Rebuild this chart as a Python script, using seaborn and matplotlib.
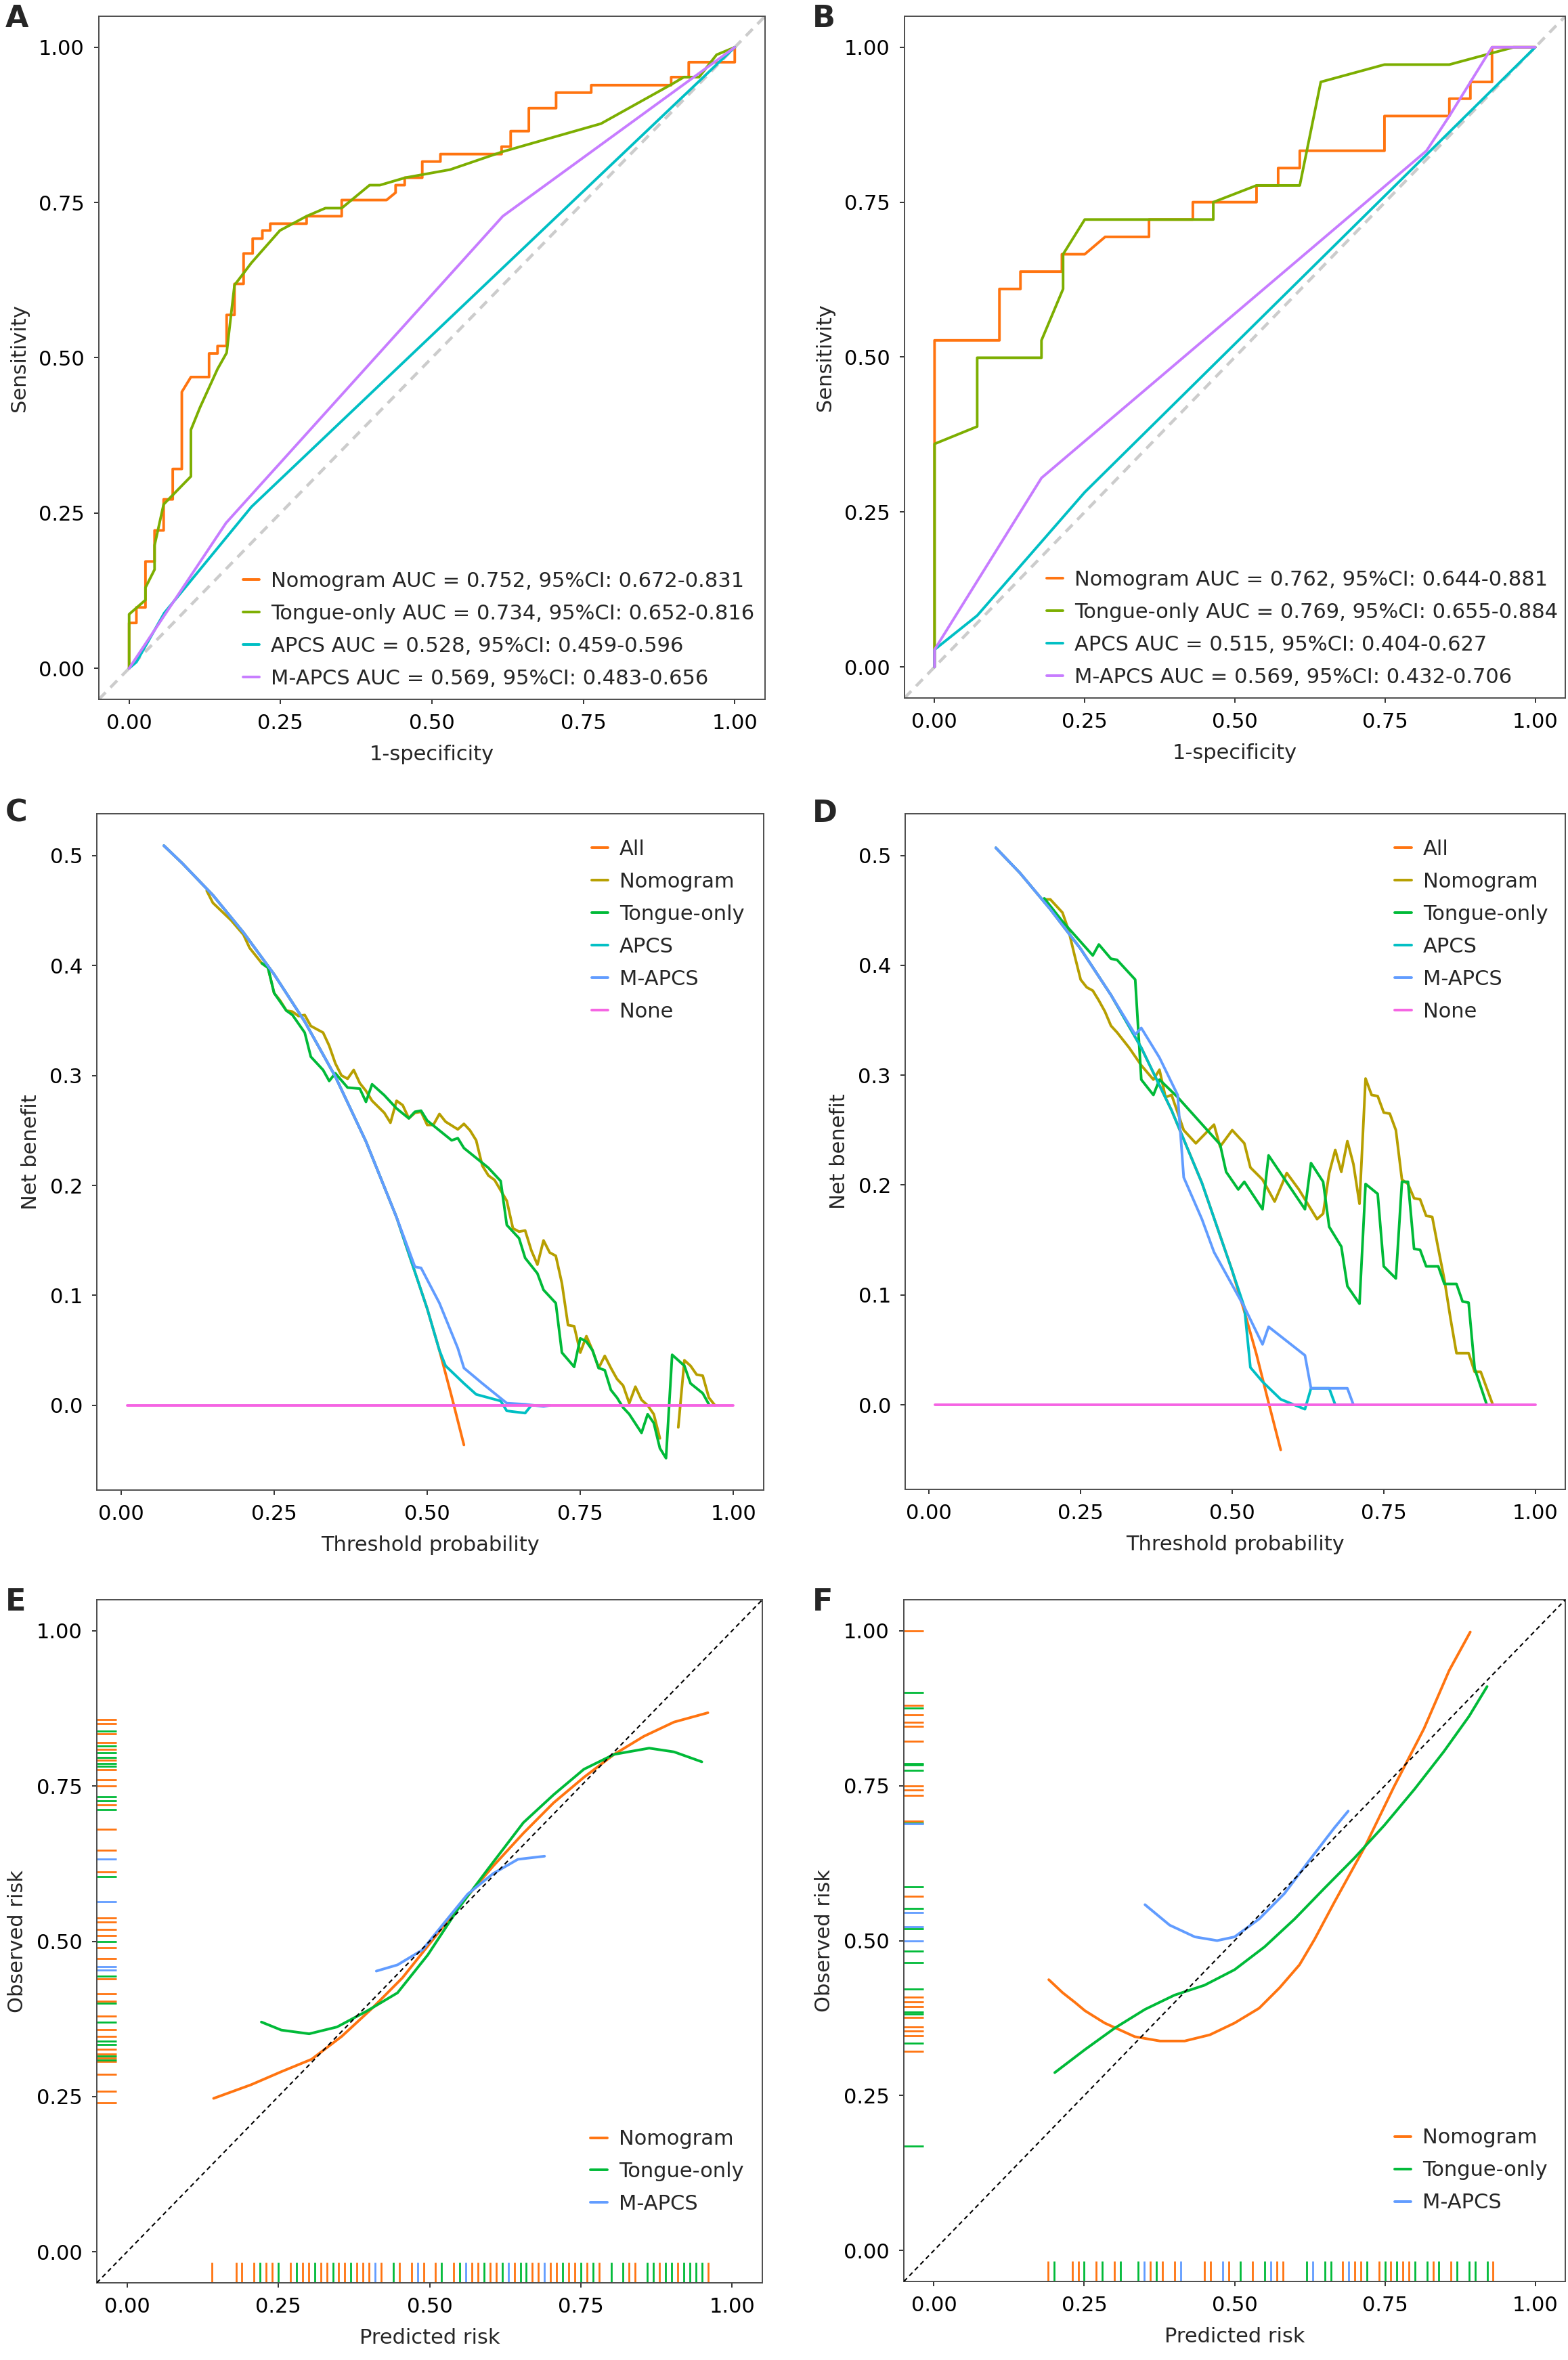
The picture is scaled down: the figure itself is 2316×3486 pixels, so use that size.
import numpy as np
import pandas as pd
import matplotlib
matplotlib.use("Agg")
import matplotlib.pyplot as plt
import seaborn as sns

# ---------------- DATA ----------------
roc_labels_A = ["Nomogram AUC = 0.752, 95%CI: 0.672-0.831",
                "Tongue-only AUC = 0.734, 95%CI: 0.652-0.816",
                "APCS AUC = 0.528, 95%CI: 0.459-0.596",
                "M-APCS AUC = 0.569, 95%CI: 0.483-0.656"]
roc_labels_B = ["Nomogram AUC = 0.762, 95%CI: 0.644-0.881",
                "Tongue-only AUC = 0.769, 95%CI: 0.655-0.884",
                "APCS AUC = 0.515, 95%CI: 0.404-0.627",
                "M-APCS AUC = 0.569, 95%CI: 0.432-0.706"]

A_nom_fpr = [0, 0, 0.012, 0.012, 0.027, 0.027, 0.042, 0.042, 0.057, 0.057,
             0.072, 0.072, 0.087, 0.087, 0.102, 0.132, 0.132, 0.146, 0.146, 0.161,
             0.161, 0.174, 0.174, 0.189, 0.189, 0.204, 0.204, 0.220, 0.220, 0.233,
             0.233, 0.293, 0.293, 0.351, 0.351, 0.425, 0.440, 0.440, 0.455, 0.455,
             0.484, 0.484, 0.514, 0.514, 0.615, 0.615, 0.630, 0.630, 0.660, 0.660,
             0.705, 0.705, 0.763, 0.763, 0.895, 0.895, 0.924, 0.924, 1.0, 1.0]
A_nom_tpr = [0, 0.073, 0.073, 0.098, 0.098, 0.172, 0.172, 0.222, 0.222, 0.272,
             0.272, 0.321, 0.321, 0.445, 0.469, 0.469, 0.507, 0.507, 0.519, 0.519,
             0.569, 0.569, 0.619, 0.619, 0.668, 0.668, 0.692, 0.692, 0.705, 0.705,
             0.716, 0.716, 0.728, 0.728, 0.754, 0.754, 0.766, 0.778, 0.778, 0.790,
             0.790, 0.816, 0.816, 0.828, 0.828, 0.840, 0.840, 0.865, 0.865, 0.902,
             0.902, 0.927, 0.927, 0.939, 0.939, 0.952, 0.952, 0.976, 0.976, 1.0]
A_ton_fpr = [0, 0, 0.027, 0.027, 0.042, 0.042, 0.057, 0.102, 0.102, 0.117, 0.146, 0.161,
             0.174, 0.202, 0.249, 0.293, 0.324, 0.351, 0.397, 0.414, 0.456, 0.530, 0.617,
             0.779, 0.895, 0.916, 0.941, 0.970, 1.0]
A_ton_tpr = [0, 0.087, 0.110, 0.130, 0.159, 0.198, 0.264, 0.309, 0.384, 0.420, 0.482, 0.508,
             0.617, 0.653, 0.705, 0.728, 0.741, 0.741, 0.778, 0.778, 0.790, 0.803, 0.832,
             0.877, 0.940, 0.952, 0.952, 0.988, 1.0]
A_apcs_fpr = [0, 0.012, 0.058, 0.202, 1.0]
A_apcs_tpr = [0, 0.010, 0.089, 0.260, 1.0]
A_mapcs_fpr = [0, 0.160, 0.617, 1.0]
A_mapcs_tpr = [0, 0.234, 0.728, 1.0]

B_nom_fpr = [0, 0, 0.108, 0.108, 0.143, 0.143, 0.212, 0.212, 0.250, 0.284, 0.357, 0.357,
             0.430, 0.430, 0.536, 0.536, 0.572, 0.572, 0.608, 0.608, 0.749, 0.749, 0.857,
             0.857, 0.892, 0.892, 0.928, 0.928, 1.0]
B_nom_tpr = [0, 0.527, 0.527, 0.610, 0.610, 0.638, 0.638, 0.666, 0.666, 0.694, 0.694, 0.722,
             0.722, 0.750, 0.750, 0.777, 0.777, 0.805, 0.805, 0.833, 0.833, 0.889, 0.889,
             0.917, 0.917, 0.944, 0.944, 1.0, 1.0]
B_ton_fpr = [0, 0, 0.071, 0.071, 0.178, 0.178, 0.214, 0.214, 0.250, 0.464, 0.464, 0.536,
             0.608, 0.643, 0.749, 0.857, 0.964, 1.0]
B_ton_tpr = [0, 0.360, 0.388, 0.499, 0.499, 0.527, 0.610, 0.666, 0.722, 0.722, 0.750, 0.777,
             0.777, 0.944, 0.972, 0.972, 1.0, 1.0]
B_apcs_fpr = [0, 0, 0.071, 0.250, 1.0]
B_apcs_tpr = [0, 0.028, 0.083, 0.282, 1.0]
B_mapcs_fpr = [0, 0, 0.178, 0.819, 0.857, 0.928, 1.0]
B_mapcs_tpr = [0, 0.028, 0.305, 0.833, 0.889, 1.0, 1.0]

dca_names = ["All", "Nomogram", "Tongue-only", "APCS", "M-APCS", "None"]
none_x = [0.01, 1.0]
none_y = [0.0, 0.0]

C_all_x = [0.07, 0.10, 0.15, 0.20, 0.25, 0.30, 0.35, 0.40, 0.45, 0.50, 0.52, 0.54, 0.56]
C_all_y = [0.509, 0.493, 0.464, 0.430, 0.392, 0.349, 0.299, 0.240, 0.171, 0.088, 0.050, 0.008, -0.036]
C_nom_x = [0.14, 0.15, 0.18, 0.20, 0.21, 0.23, 0.24, 0.25, 0.26, 0.27, 0.28, 0.29, 0.30, 0.31,
           0.33, 0.34, 0.35, 0.36, 0.37, 0.38, 0.39, 0.40, 0.41, 0.43, 0.44, 0.45, 0.46, 0.47,
           0.48, 0.49, 0.50, 0.51, 0.52, 0.53, 0.55, 0.56, 0.57, 0.58, 0.59, 0.60, 0.61, 0.63,
           0.64, 0.65, 0.66, 0.67, 0.68, 0.69, 0.70, 0.71, 0.72, 0.73, 0.74, 0.75, 0.76, 0.77,
           0.78, 0.79, 0.80, 0.81, 0.82, 0.83, 0.84, 0.85, 0.86, 0.87, 0.88, 0.89, 0.90, 0.91,
           0.92, 0.93, 0.94, 0.95, 0.96, 0.97]
C_nom_y = [0.468, 0.457, 0.441, 0.428, 0.416, 0.402, 0.398, 0.375, 0.368, 0.359, 0.358, 0.354,
           0.355, 0.345, 0.339, 0.327, 0.311, 0.300, 0.297, 0.305, 0.293, 0.286, 0.277, 0.266,
           0.257, 0.277, 0.273, 0.261, 0.266, 0.267, 0.255, 0.255, 0.265, 0.258, 0.251, 0.256,
           0.250, 0.241, 0.218, 0.209, 0.205, 0.186, 0.161, 0.158, 0.159, 0.141, 0.128, 0.150,
           0.139, 0.136, 0.111, 0.073, 0.072, 0.048, 0.063, 0.050, 0.034, 0.045, 0.034, 0.024,
           0.018, 0.002, 0.017, 0.005, 0.000, -0.008, -0.030, np.nan, np.nan, -0.020, 0.041,
           0.036, 0.028, 0.027, 0.007, 0.000]
C_ton_x = [0.23, 0.24, 0.25, 0.27, 0.28, 0.30, 0.31, 0.33, 0.34, 0.35, 0.37, 0.39, 0.40, 0.41,
           0.43, 0.45, 0.47, 0.48, 0.49, 0.50, 0.52, 0.54, 0.55, 0.56, 0.60, 0.62, 0.63, 0.65,
           0.66, 0.68, 0.69, 0.71, 0.72, 0.74, 0.75, 0.76, 0.77, 0.78, 0.79, 0.80, 0.81, 0.82,
           0.83, 0.85, 0.86, 0.87, 0.88, 0.89, 0.90, 0.92, 0.93, 0.95, 0.96]
C_ton_y = [0.402, 0.398, 0.375, 0.359, 0.355, 0.339, 0.317, 0.305, 0.295, 0.302, 0.289, 0.288,
           0.276, 0.292, 0.282, 0.270, 0.261, 0.267, 0.268, 0.259, 0.250, 0.241, 0.243, 0.234,
           0.216, 0.204, 0.164, 0.152, 0.134, 0.120, 0.105, 0.093, 0.048, 0.035, 0.061, 0.058,
           0.050, 0.034, 0.032, 0.014, 0.007, -0.002, -0.008, -0.025, -0.008, -0.016, -0.039,
           -0.048, 0.046, 0.036, 0.020, 0.011, 0.001]
C_apcs_x = [0.07, 0.10, 0.15, 0.20, 0.25, 0.30, 0.35, 0.40, 0.45, 0.50, 0.52, 0.53, 0.56, 0.58,
            0.62, 0.63, 0.66, 0.67, 0.70]
C_apcs_y = [0.509, 0.493, 0.464, 0.430, 0.392, 0.349, 0.299, 0.240, 0.171, 0.088, 0.050, 0.036,
            0.020, 0.010, 0.004, -0.005, -0.007, 0.0, 0.0]
C_mapcs_x = [0.07, 0.10, 0.15, 0.20, 0.25, 0.30, 0.35, 0.40, 0.45, 0.48, 0.49, 0.52, 0.55, 0.56,
             0.59, 0.63, 0.66, 0.69, 0.70]
C_mapcs_y = [0.509, 0.493, 0.464, 0.430, 0.392, 0.349, 0.299, 0.240, 0.171, 0.126, 0.125, 0.093,
             0.052, 0.034, 0.020, 0.002, 0.001, -0.001, 0.0]

D_all_x = [0.11, 0.15, 0.20, 0.25, 0.30, 0.35, 0.40, 0.45, 0.50, 0.52, 0.54, 0.56, 0.58]
D_all_y = [0.507, 0.484, 0.451, 0.415, 0.373, 0.325, 0.268, 0.202, 0.122, 0.085, 0.046, 0.002, -0.041]
D_nom_x = [0.19, 0.20, 0.22, 0.23, 0.24, 0.25, 0.26, 0.27, 0.28, 0.29, 0.30, 0.31, 0.33, 0.35,
           0.37, 0.38, 0.39, 0.40, 0.42, 0.44, 0.47, 0.48, 0.50, 0.52, 0.53, 0.55, 0.57, 0.59,
           0.61, 0.64, 0.65, 0.66, 0.67, 0.68, 0.69, 0.70, 0.71, 0.72, 0.73, 0.74, 0.75, 0.76,
           0.77, 0.78, 0.79, 0.80, 0.81, 0.82, 0.83, 0.84, 0.85, 0.86, 0.87, 0.89, 0.90, 0.91,
           0.93]
D_nom_y = [0.460, 0.460, 0.448, 0.432, 0.409, 0.387, 0.380, 0.377, 0.368, 0.358, 0.345, 0.339,
           0.325, 0.309, 0.296, 0.305, 0.280, 0.282, 0.250, 0.238, 0.255, 0.235, 0.250, 0.238,
           0.216, 0.205, 0.185, 0.211, 0.196, 0.169, 0.174, 0.211, 0.232, 0.212, 0.240, 0.219,
           0.183, 0.297, 0.282, 0.281, 0.266, 0.265, 0.250, 0.205, 0.201, 0.188, 0.187, 0.172,
           0.171, 0.142, 0.114, 0.079, 0.047, 0.047, 0.030, 0.030, 0.0]
D_ton_x = [0.19, 0.22, 0.27, 0.28, 0.30, 0.31, 0.34, 0.35, 0.37, 0.38, 0.41, 0.48, 0.49, 0.51,
           0.52, 0.55, 0.56, 0.62, 0.63, 0.65, 0.66, 0.68, 0.69, 0.71, 0.72, 0.74, 0.75, 0.77,
           0.78, 0.79, 0.80, 0.81, 0.82, 0.84, 0.85, 0.87, 0.88, 0.89, 0.90, 0.92]
D_ton_y = [0.461, 0.440, 0.409, 0.419, 0.406, 0.405, 0.387, 0.296, 0.282, 0.296, 0.280, 0.237,
           0.212, 0.196, 0.203, 0.178, 0.227, 0.178, 0.220, 0.203, 0.162, 0.144, 0.108, 0.092,
           0.201, 0.192, 0.126, 0.115, 0.203, 0.203, 0.142, 0.141, 0.126, 0.126, 0.110, 0.110,
           0.094, 0.093, 0.033, 0.0]
D_apcs_x = [0.11, 0.15, 0.20, 0.25, 0.30, 0.35, 0.40, 0.45, 0.50, 0.52, 0.53, 0.55, 0.58, 0.62,
            0.63, 0.66, 0.67, 0.70]
D_apcs_y = [0.507, 0.484, 0.451, 0.415, 0.373, 0.325, 0.268, 0.202, 0.122, 0.089, 0.034, 0.021,
            0.005, -0.004, 0.015, 0.015, 0.0, 0.0]
D_mapcs_x = [0.11, 0.15, 0.20, 0.25, 0.30, 0.34, 0.35, 0.38, 0.41, 0.42, 0.45, 0.47, 0.49, 0.52,
             0.55, 0.56, 0.62, 0.63, 0.69, 0.70]
D_mapcs_y = [0.507, 0.484, 0.451, 0.415, 0.373, 0.337, 0.343, 0.316, 0.282, 0.207, 0.169, 0.139,
             0.119, 0.089, 0.055, 0.071, 0.045, 0.015, 0.015, 0.0]

cal_names = ["Nomogram", "Tongue-only", "M-APCS"]
E_nom_x = [0.143, 0.205, 0.255, 0.305, 0.355, 0.405, 0.455, 0.505, 0.555, 0.605, 0.655, 0.705,
           0.755, 0.805, 0.854, 0.904, 0.960]
E_nom_y = [0.247, 0.269, 0.290, 0.310, 0.347, 0.392, 0.441, 0.502, 0.564, 0.621, 0.674, 0.723,
           0.764, 0.801, 0.830, 0.853, 0.868]
E_ton_x = [0.222, 0.255, 0.301, 0.347, 0.397, 0.447, 0.497, 0.547, 0.597, 0.655, 0.705, 0.755,
           0.805, 0.863, 0.904, 0.950]
E_ton_y = [0.370, 0.357, 0.351, 0.362, 0.388, 0.417, 0.478, 0.552, 0.617, 0.691, 0.736, 0.777,
           0.801, 0.811, 0.805, 0.789]
E_map_x = [0.412, 0.447, 0.488, 0.522, 0.563, 0.605, 0.646, 0.690]
E_map_y = [0.452, 0.462, 0.486, 0.527, 0.576, 0.609, 0.632, 0.637]

F_nom_x = [0.191, 0.214, 0.235, 0.251, 0.284, 0.334, 0.376, 0.417, 0.459, 0.500, 0.541, 0.575,
           0.608, 0.633, 0.666, 0.716, 0.765, 0.815, 0.857, 0.892]
F_nom_y = [0.437, 0.416, 0.400, 0.387, 0.367, 0.345, 0.338, 0.338, 0.348, 0.367, 0.391, 0.424,
           0.461, 0.502, 0.562, 0.650, 0.748, 0.842, 0.936, 0.998]
F_ton_x = [0.201, 0.251, 0.301, 0.351, 0.400, 0.450, 0.500, 0.550, 0.600, 0.649, 0.699, 0.749,
           0.799, 0.848, 0.890, 0.920]
F_ton_y = [0.287, 0.324, 0.359, 0.389, 0.412, 0.428, 0.453, 0.490, 0.535, 0.584, 0.633, 0.686,
           0.744, 0.805, 0.862, 0.910]
F_map_x = [0.351, 0.392, 0.434, 0.471, 0.500, 0.541, 0.583, 0.624, 0.666, 0.689]
F_map_y = [0.558, 0.525, 0.506, 0.500, 0.506, 0.535, 0.576, 0.629, 0.682, 0.709]

E_rug_nom_x = [0.14, 0.18, 0.19, 0.21, 0.23, 0.24, 0.27, 0.29, 0.30, 0.32, 0.33, 0.35, 0.36, 0.38,
               0.39, 0.40, 0.42, 0.45, 0.47, 0.49, 0.51, 0.54, 0.57, 0.58, 0.60, 0.61, 0.64, 0.67,
               0.68, 0.70, 0.71, 0.73, 0.74, 0.76, 0.78, 0.83, 0.84, 0.88, 0.91, 0.96]
E_rug_ton_x = [0.22, 0.25, 0.28, 0.31, 0.34, 0.37, 0.44, 0.52, 0.55, 0.59, 0.62, 0.65, 0.66, 0.72,
               0.75, 0.77, 0.80, 0.82, 0.86, 0.87, 0.89, 0.90, 0.92, 0.93, 0.94, 0.95]
E_rug_map_x = [0.41, 0.48, 0.56, 0.63, 0.69]
E_rug_nom_y = [0.857, 0.850, 0.834, 0.820, 0.809, 0.792, 0.776, 0.760, 0.750, 0.720, 0.680, 0.647,
               0.612, 0.538, 0.531, 0.519, 0.509, 0.490, 0.472, 0.440, 0.415, 0.404, 0.380, 0.358,
               0.347, 0.326, 0.319, 0.312, 0.306, 0.286, 0.258, 0.240]
E_rug_ton_y = [0.839, 0.815, 0.804, 0.796, 0.786, 0.782, 0.733, 0.726, 0.712, 0.604, 0.500, 0.444,
               0.400, 0.370, 0.339, 0.334, 0.315, 0.309]
E_rug_map_y = [0.633, 0.564, 0.459, 0.454]

F_rug_nom_x = [0.19, 0.23, 0.24, 0.27, 0.30, 0.36, 0.38, 0.40, 0.45, 0.46, 0.49, 0.53, 0.57, 0.58,
               0.68, 0.70, 0.71, 0.74, 0.76, 0.78, 0.79, 0.83, 0.86, 0.93]
F_rug_ton_x = [0.20, 0.25, 0.28, 0.31, 0.34, 0.37, 0.51, 0.55, 0.62, 0.65, 0.66, 0.72, 0.75, 0.77,
               0.80, 0.82, 0.84, 0.87, 0.89, 0.90, 0.92]
F_rug_map_x = [0.35, 0.41, 0.48, 0.56, 0.63, 0.69]
F_rug_nom_y = [1.000, 0.880, 0.864, 0.852, 0.846, 0.822, 0.750, 0.743, 0.734, 0.693, 0.572, 0.409,
               0.401, 0.394, 0.376, 0.361, 0.354, 0.346, 0.321]
F_rug_ton_y = [0.900, 0.875, 0.786, 0.783, 0.775, 0.690, 0.587, 0.552, 0.519, 0.483, 0.464, 0.422,
               0.385, 0.381, 0.334, 0.168]
F_rug_map_y = [0.688, 0.545, 0.522, 0.500]

# ---------------- STYLE ----------------
sns.set_theme(style="ticks")
plt.rcParams['font.family'] = ['DejaVu Sans']
plt.rcParams['font.size'] = 11

ORANGE = "#FF7410"
ROC_COLORS = [ORANGE, "#7CAE00", "#00BFC4", "#C77CFF"]
DCA_COLORS = [ORANGE, "#B79F00", "#00BA38", "#00BFC4", "#619CFF", "#F564E3"]
CAL_COLORS = [ORANGE, "#00BA38", "#619CFF"]
LW = 1.4

W, H = 2316, 3486
fig = plt.figure(figsize=(W / 200, H / 200), dpi=200)


def box(x0, x1, y0, y1):
    return [x0 / W, 1 - y1 / H, (x1 - x0) / W, (y1 - y0) / H]


def style_ax(ax):
    for s in ax.spines.values():
        s.set_visible(True)
        s.set_color("#4D4D4D")
        s.set_linewidth(0.7)
    ax.tick_params(direction="out", length=2.6, width=0.7, colors="#333333",
                   labelcolor="black", labelsize=11, pad=5)
    ax.grid(False)


def draw(ax, xs, ys, color, label=None, lw=LW):
    df = pd.DataFrame({"x": xs, "y": ys})
    df["seg"] = df["y"].isna().cumsum()
    df = df.dropna()
    first = True
    for _, g in df.groupby("seg"):
        sns.lineplot(data=g, x="x", y="y", ax=ax, color=color, lw=lw, sort=False,
                     estimator=None, label=label if first else None, legend=False)
        first = False


def finish_legend(ax, loc, anchor):
    ax.legend(loc=loc, bbox_to_anchor=anchor, frameon=False, fontsize=11,
              handlelength=0.8, handletextpad=0.55, labelspacing=0.62,
              borderpad=0, borderaxespad=0)


# ---------------- ROC ----------------
roc_sets = [
    ("A", box(146, 1130, 24, 1033), roc_labels_A,
     [(A_nom_fpr, A_nom_tpr), (A_ton_fpr, A_ton_tpr), (A_apcs_fpr, A_apcs_tpr), (A_mapcs_fpr, A_mapcs_tpr)],
     (0.2165, 0.016)),
    ("B", box(1336, 2312, 24, 1031), roc_labels_B,
     [(B_nom_fpr, B_nom_tpr), (B_ton_fpr, B_ton_tpr), (B_apcs_fpr, B_apcs_tpr), (B_mapcs_fpr, B_mapcs_tpr)],
     (0.215, 0.016)),
]
for letter, pos, labels, series, anc in roc_sets:
    ax = fig.add_axes(pos)
    for (fx, ty), c, lab in zip(series, ROC_COLORS, labels):
        draw(ax, fx, ty, c, lab)
    ax.plot([-0.05, 1.05], [-0.05, 1.05], color="#CCCCCC", lw=1.6, ls=(0, (3.2, 2.3)), zorder=1.5)
    ax.set_xlim(-0.05, 1.05)
    ax.set_ylim(-0.05, 1.05)
    ax.set_xticks([0, 0.25, 0.5, 0.75, 1.0])
    ax.set_yticks([0, 0.25, 0.5, 0.75, 1.0])
    ax.set_xticklabels(["0.00", "0.25", "0.50", "0.75", "1.00"])
    ax.set_yticklabels(["0.00", "0.25", "0.50", "0.75", "1.00"])
    ax.set_xlabel("1-specificity", fontsize=11, labelpad=6)
    ax.set_ylabel("Sensitivity", fontsize=11, labelpad=5)
    style_ax(ax)
    finish_legend(ax, "lower left", anc)

# ---------------- DCA ----------------
dca_sets = [
    ("C", box(143, 1128, 1202, 2201),
     [(C_all_x, C_all_y), (C_nom_x, C_nom_y), (C_ton_x, C_ton_y), (C_apcs_x, C_apcs_y),
      (C_mapcs_x, C_mapcs_y), (none_x, none_y)], (-0.0395, 1.0495)),
    ("D", box(1337, 2312, 1202, 2200),
     [(D_all_x, D_all_y), (D_nom_x, D_nom_y), (D_ton_x, D_ton_y), (D_apcs_x, D_apcs_y),
      (D_mapcs_x, D_mapcs_y), (none_x, none_y)], (-0.0395, 1.0495)),
]
for letter, pos, series, xl in dca_sets:
    ax = fig.add_axes(pos)
    for (xs, ys), c, lab in zip(series, DCA_COLORS, dca_names):
        draw(ax, xs, ys, c, lab)
    ax.set_xlim(*xl)
    ax.set_ylim(-0.077, 0.538)
    ax.set_xticks([0, 0.25, 0.5, 0.75, 1.0])
    ax.set_xticklabels(["0.00", "0.25", "0.50", "0.75", "1.00"])
    ax.set_yticks([0, 0.1, 0.2, 0.3, 0.4, 0.5])
    ax.set_yticklabels(["0.0", "0.1", "0.2", "0.3", "0.4", "0.5"])
    ax.set_xlabel("Threshold probability", fontsize=11, labelpad=6)
    ax.set_ylabel("Net benefit", fontsize=11, labelpad=5)
    style_ax(ax)
    finish_legend(ax, "upper left", (0.742, 0.962))

# ---------------- CALIBRATION ----------------
cal_sets = [
    ("E", box(143, 1126, 2363, 3372),
     [(E_nom_x, E_nom_y), (E_ton_x, E_ton_y), (E_map_x, E_map_y)],
     [E_rug_nom_x, E_rug_ton_x, E_rug_map_x], [E_rug_nom_y, E_rug_ton_y, E_rug_map_y]),
    ("F", box(1335, 2312, 2363, 3370),
     [(F_nom_x, F_nom_y), (F_ton_x, F_ton_y), (F_map_x, F_map_y)],
     [F_rug_nom_x, F_rug_ton_x, F_rug_map_x], [F_rug_nom_y, F_rug_ton_y, F_rug_map_y]),
]
for letter, pos, series, rugx, rugy in cal_sets:
    ax = fig.add_axes(pos)
    for rx, ry, c in zip(rugx, rugy, CAL_COLORS):
        sns.rugplot(x=rx, ax=ax, color=c, height=0.03, lw=0.8, clip_on=False)
        sns.rugplot(y=ry, ax=ax, color=c, height=0.03, lw=0.8, clip_on=False)
    for (xs, ys), c, lab in zip(series, CAL_COLORS, cal_names):
        draw(ax, xs, ys, c, lab)
    ax.plot([-0.05, 1.05], [-0.05, 1.05], color="black", lw=0.75, ls=(0, (3.2, 2.4)), zorder=3)
    ax.set_xlim(-0.05, 1.05)
    ax.set_ylim(-0.05, 1.05)
    ax.set_xticks([0, 0.25, 0.5, 0.75, 1.0])
    ax.set_yticks([0, 0.25, 0.5, 0.75, 1.0])
    ax.set_xticklabels(["0.00", "0.25", "0.50", "0.75", "1.00"])
    ax.set_yticklabels(["0.00", "0.25", "0.50", "0.75", "1.00"])
    ax.set_xlabel("Predicted risk", fontsize=11, labelpad=6)
    ax.set_ylabel("Observed risk", fontsize=11, labelpad=5)
    style_ax(ax)
    finish_legend(ax, "lower left", (0.742, 0.101))

# ---------------- PANEL LETTERS ----------------
letters = ["A", "B", "C", "D", "E", "F"]
letter_pos = [(8, 6), (1200, 6), (8, 1180), (1200, 1180), (8, 2345), (1200, 2345)]
for lt, (px, py) in zip(letters, letter_pos):
    fig.text(px / W, 1 - py / H, lt, fontsize=16, fontweight="bold", ha="left", va="top")

fig.savefig("out.png", dpi=200)
